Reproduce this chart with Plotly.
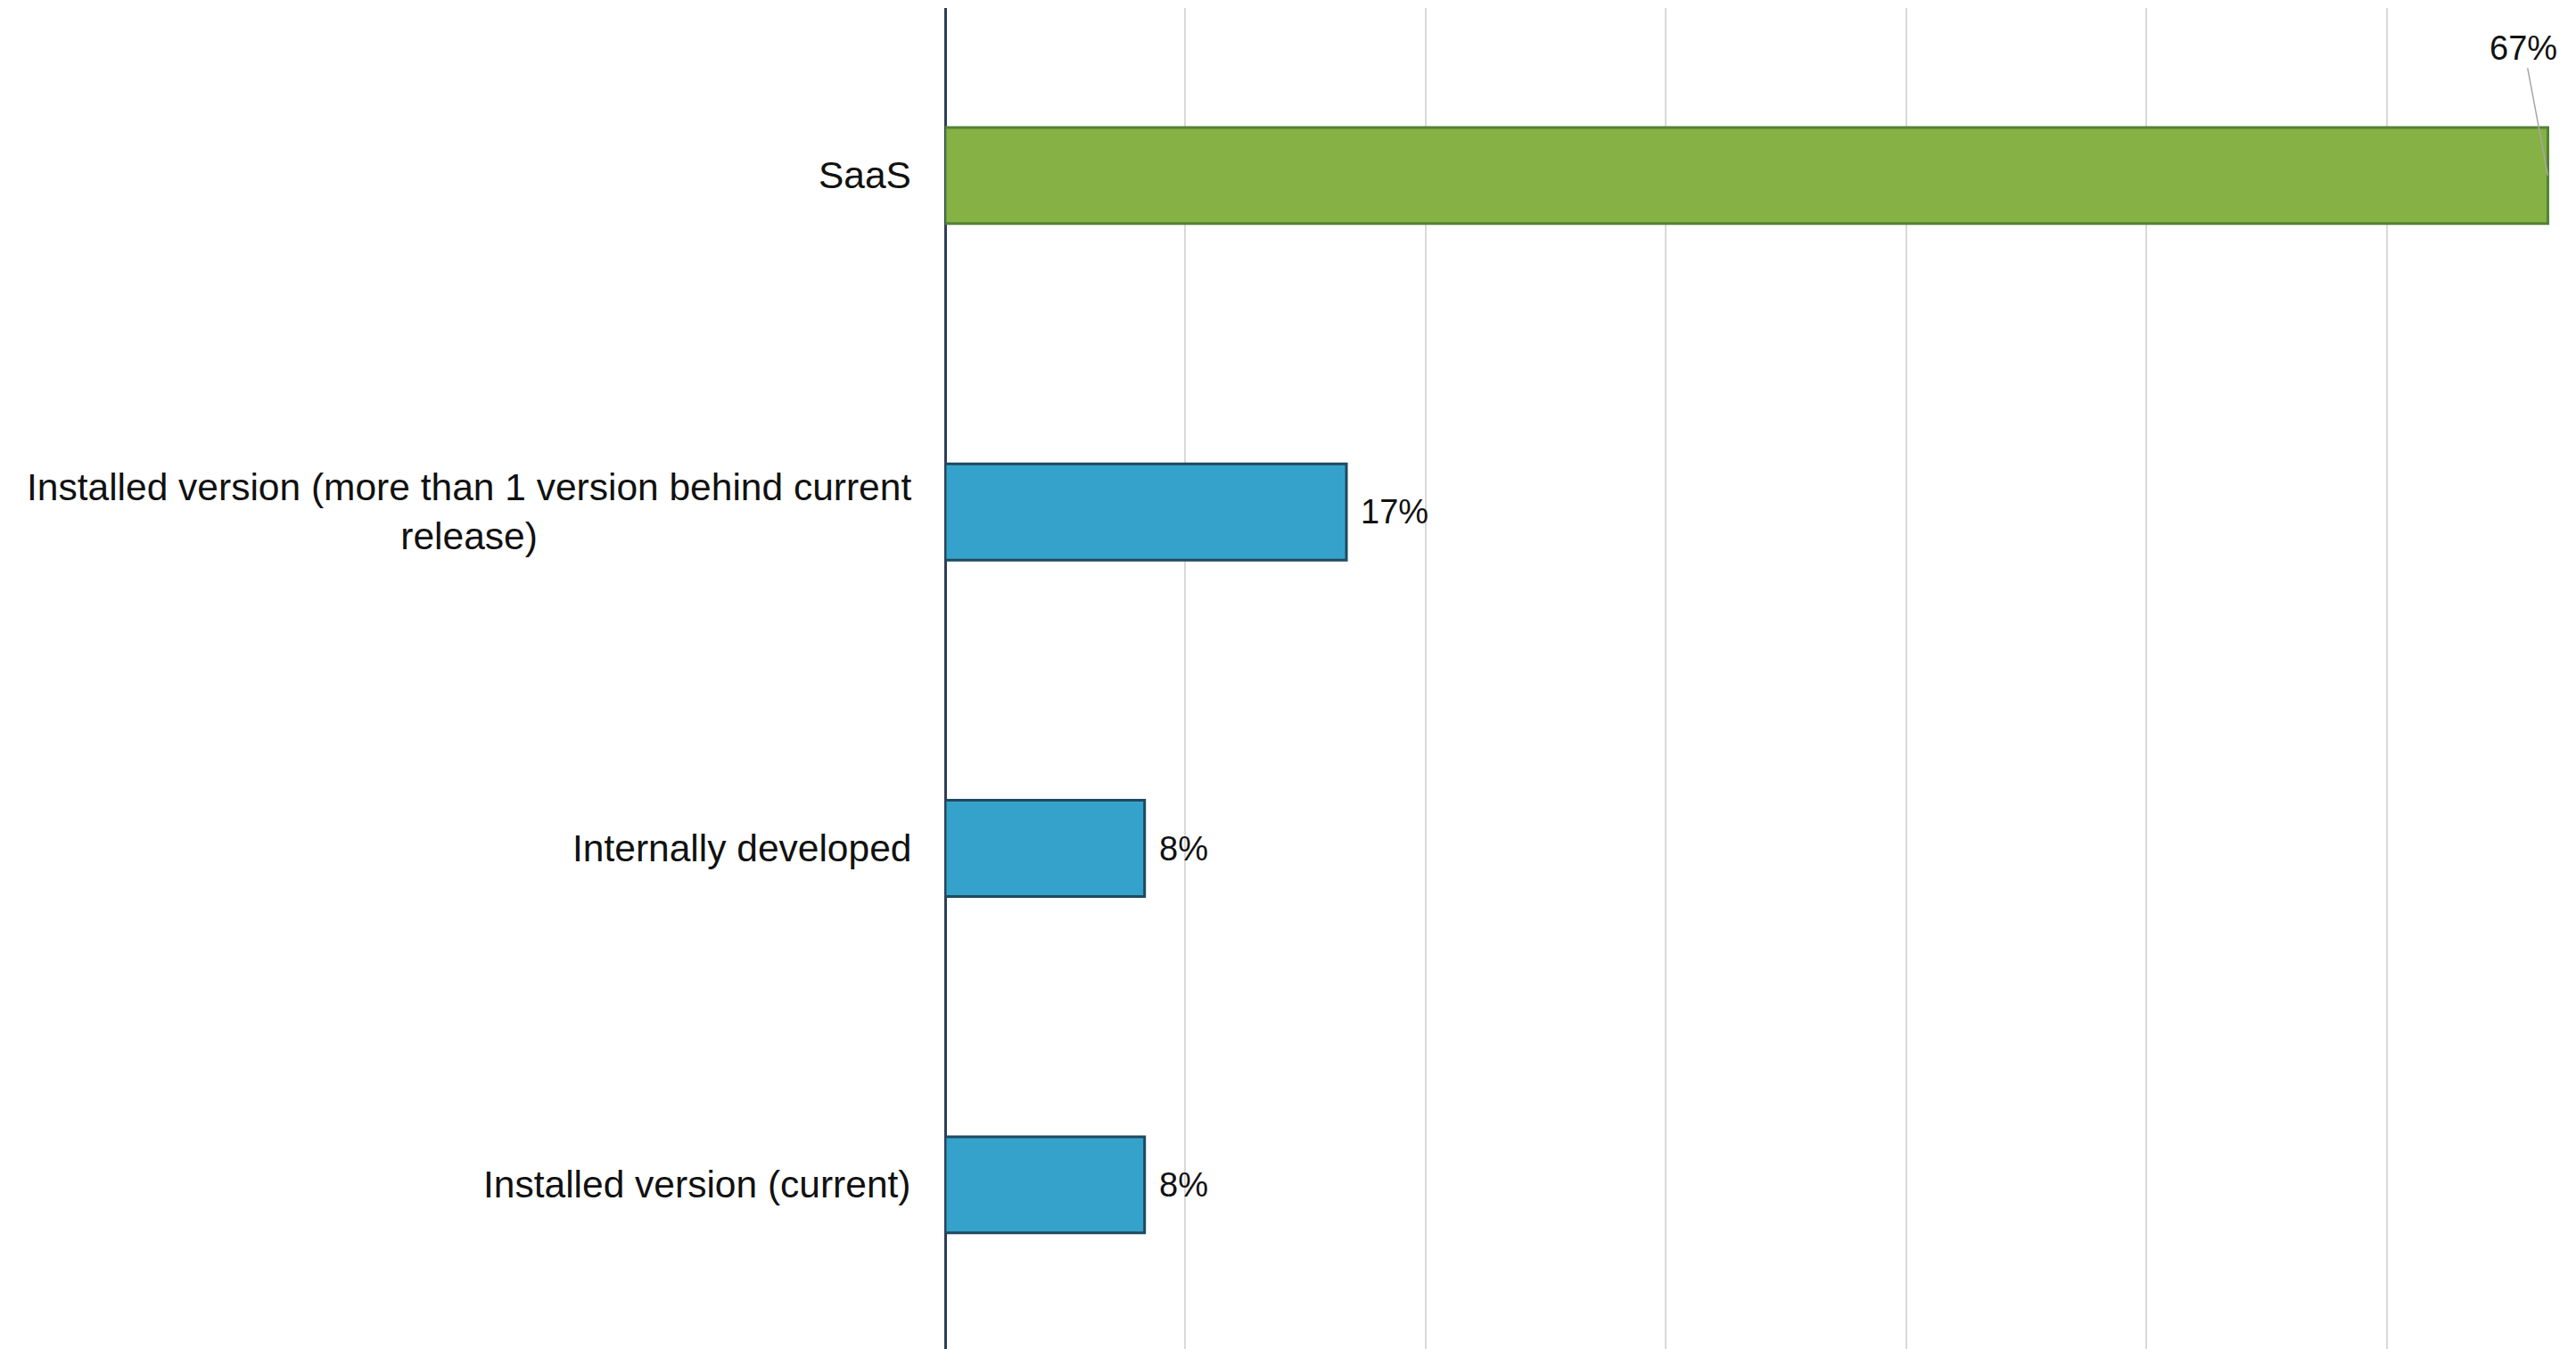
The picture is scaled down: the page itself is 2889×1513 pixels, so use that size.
import plotly.graph_objects as go

# Deployment model share (percent of respondents)
categories = [
    "SaaS",
    "Installed version (more than 1 version behind current<br>release)",
    "Internally developed",
    "Installed version (current)",
]
values = [66.7, 16.7, 8.3, 8.3]
bar_colors = ["#86b144", "#35a2cb", "#35a2cb", "#35a2cb"]
edge_colors = ["#548235", "#1f4a60", "#1f4a60", "#1f4a60"]

FONT = "Liberation Sans, Arial, sans-serif"

fig = go.Figure(
    go.Bar(
        x=values,
        y=categories,
        orientation="h",
        marker=dict(color=bar_colors, line=dict(color=edge_colors, width=3)),
        hoverinfo="skip",
    )
)

annotations = []
# Category labels, right-aligned against the axis, lines centred
for cat in categories:
    annotations.append(dict(
        xref="paper", yref="y", x=0, y=cat,
        text=cat, showarrow=False,
        xanchor="right", yanchor="middle", align="center",
        xshift=-36,
        font=dict(family=FONT, size=42.5, color="#111111"),
    ))

# Value labels
for i, (cat, v) in enumerate(zip(categories, values)):
    label = f"{v:.0f}%"
    if i == 0:
        annotations.append(dict(
            xref="x", yref="y", x=v, y=cat,
            text=label, showarrow=True, arrowhead=0,
            arrowcolor="#a6a6a6", arrowwidth=1.5,
            ax=-27, ay=-143,
            font=dict(family=FONT, size=38, color="#111111"),
        ))
    else:
        annotations.append(dict(
            xref="x", yref="y", x=v, y=cat,
            text=label, showarrow=False,
            xanchor="left", yanchor="middle", xshift=14,
            font=dict(family=FONT, size=38, color="#111111"),
        ))

fig.update_layout(
    width=2889,
    height=1513,
    margin=dict(l=1060, r=0, t=9, b=0, pad=0),
    paper_bgcolor="white",
    plot_bgcolor="white",
    bargap=0.714,
    showlegend=False,
    annotations=annotations,
    xaxis=dict(
        range=[0, 67.87],
        dtick=10,
        showgrid=True,
        gridcolor="#d9d9d9",
        gridwidth=2,
        zeroline=True,
        zerolinecolor="#2e3f55",
        zerolinewidth=3,
        showticklabels=False,
        fixedrange=True,
    ),
    yaxis=dict(
        range=[3.488, -0.498],
        showticklabels=False,
        showgrid=False,
        zeroline=False,
        fixedrange=True,
    ),
)

fig.write_html("out.html")
